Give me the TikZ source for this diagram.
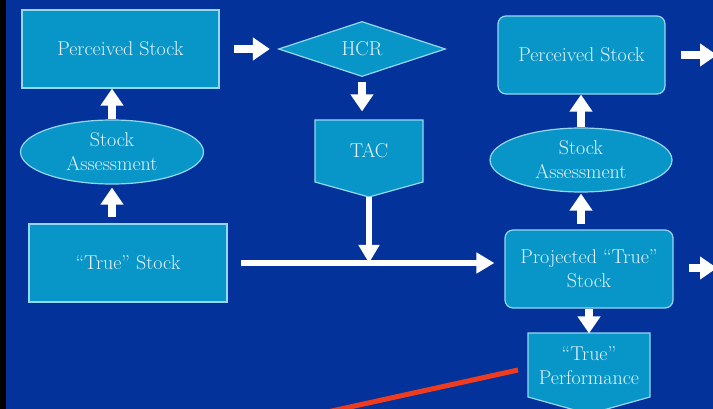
\documentclass[tikz,border=0pt]{standalone}
\usetikzlibrary{shapes.geometric,arrows.meta}
\definecolor{slideblue}{RGB}{4,50,155}
\definecolor{boxblue}{RGB}{8,150,200}
\definecolor{boxline}{RGB}{150,215,240}
\definecolor{boxtext}{RGB}{230,243,248}
\definecolor{penred}{RGB}{240,60,30}
\begin{document}
\begin{tikzpicture}[x=1pt, y=-1pt,
                    every node/.style={fill=boxblue, draw=boxline, line width=1.2pt, text=boxtext,
                                       font=\fontsize{20}{24}\selectfont, align=center, inner sep=0pt},
                    sqbox/.style={rectangle, minimum height=78},
                    rndbox/.style={rectangle, rounded corners=8pt, minimum height=78},
                    plain/.style={fill=none, draw=none},
                    penta/.style={fill=boxblue, draw=boxline, line width=1.2pt},
                    fat/.style={line width=8pt, white, -{Triangle[width=22pt,length=17pt]}},
                    bar/.style={line width=6pt, white, -{Triangle[width=20pt,length=18pt]}}
                    ]
                    \useasboundingbox (0,0) rectangle (713,409);
                    \clip (0,0) rectangle (713,409);
                    \fill[slideblue] (0,0) rectangle (713,409);
                    \fill[black] (0,0) rectangle (6,409);

                    \node[sqbox, minimum width=197] (ps1) at (120.5,49) {Perceived Stock};
                    \node[ellipse, minimum width=183, minimum height=64] (sa1) at (112,152) {Stock\\Assessment};
                    \node[sqbox, minimum width=198] (ts1) at (128,263) {``True'' Stock};
                    \node[diamond, minimum width=167, minimum height=53] (hcr) at (362,49) {HCR};
                    \filldraw[penta] (315,120) -- (423,120) -- (423,182) -- (369,197) -- (315,182) -- cycle;
                    \node[plain, minimum width=108, minimum height=62] (tac) at (369,151) {TAC};
                    \coordinate (tactip) at (369,197);
                    \node[rndbox, minimum width=167] (ps2) at (581.5,55) {Perceived Stock};
                    \node[ellipse, minimum width=182, minimum height=64] (sa2) at (581,160) {Stock\\Assessment};
                    \node[rndbox, minimum width=168] (pts) at (589,269) {Projected ``True''\\Stock};
                    \filldraw[penta] (528,333) -- (650,333) -- (650,397) -- (589,414) -- (528,397) -- cycle;
                    \node[plain, minimum width=122, minimum height=64] (perf) at (589,366) {``True''\\Performance};
                    \coordinate (out1) at (717,55);
                    \coordinate (out2) at (717,268);
                    \coordinate (jn) at (tactip |- ts1.east);

                    % arrows
                    \draw[fat, shorten <=14pt, shorten >=8pt] (ps1) -- (hcr);
                    \draw[fat, shorten <=5pt, shorten >=8pt] (hcr.south) -- (hcr.south |- tac.north);
                    \draw[fat] (sa1.north) -- (sa1.north |- ps1.south);
                    \draw[fat, shorten <=6pt, shorten >=3pt] (sa1.south |- ts1.north) -- (sa1.south);
                    \draw[fat] (sa2.north) -- (sa2.north |- ps2.south);
                    \draw[fat, shorten <=5pt, shorten >=1pt] (sa2.south |- pts.north) -- (sa2.south);
                    \draw[fat] (pts.south) -- (perf.north);
                    \draw[fat, shorten <=15pt] (ps2.east) -- (out1);
                    \draw[fat, shorten <=15pt] (pts.east |- out2) -- (out2);
                    \draw[bar] (tactip) -- (jn);
                    \draw[bar, shorten <=13pt, shorten >=10pt] (ts1.east) -- (ts1.east -| pts.west);

                    \draw[penred, line width=5pt] (518,370) -- (300,418);
                \end{tikzpicture}
\end{document}
